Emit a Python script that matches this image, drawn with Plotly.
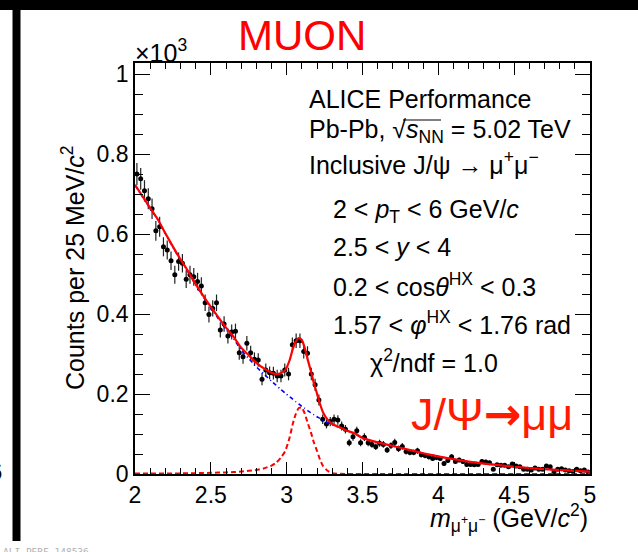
import numpy as np
import plotly.graph_objects as go

# ---- dimuon invariant-mass spectrum (counts per 25 MeV/c^2, in units of 10^3) ----
bin_low = 2.0
bin_width = 0.025
counts_k = [
    0.750, 0.738, 0.708, 0.688, 0.663, 0.608, 0.618, 0.568, 0.560, 0.533,
    0.498, 0.531, 0.527, 0.487, 0.498, 0.493, 0.481, 0.470, 0.428, 0.399,
    0.414, 0.428, 0.360, 0.375, 0.345, 0.355, 0.357, 0.303, 0.293, 0.327,
    0.303, 0.287, 0.285, 0.237, 0.260, 0.253, 0.252, 0.245, 0.245, 0.260,
    0.250, 0.323, 0.333, 0.333, 0.306, 0.302, 0.250, 0.223, 0.185, 0.137,
    0.125, 0.131, 0.137, 0.135, 0.120, 0.112, 0.078, 0.093, 0.108, 0.078,
    0.092, 0.078, 0.074, 0.068, 0.077, 0.074, 0.060, 0.071, 0.079, 0.063,
    0.069, 0.056, 0.054, 0.054, 0.058, 0.048, 0.046, 0.043, 0.039, 0.041,
    0.039, 0.026, 0.034, 0.043, 0.031, 0.035, 0.031, 0.024, 0.024, 0.023,
    0.024, 0.031, 0.030, 0.028, 0.012, 0.023, 0.022, 0.022, 0.018, 0.025,
    0.020, 0.018, 0.012, 0.012, 0.010, 0.015, 0.012, 0.012, 0.020, 0.018,
    0.005, 0.012, 0.013, 0.010, 0.008, 0.006, 0.012, 0.008, 0.010, 0.005,
]

# ---- fit components sampled along the mass axis ----
fit_mass = [
    2.00, 2.05, 2.10, 2.15, 2.20, 2.25, 2.30, 2.35, 2.40, 2.45,
    2.50, 2.55, 2.60, 2.65, 2.70, 2.75, 2.80, 2.85, 2.90, 2.93,
    2.96, 2.99, 3.02, 3.04, 3.06, 3.08, 3.10, 3.12, 3.14, 3.16,
    3.18, 3.20, 3.22, 3.24, 3.27, 3.30, 3.35, 3.40, 3.45, 3.50,
    3.60, 3.70, 3.80, 3.90, 4.00, 4.10, 4.20, 4.30, 4.40, 4.50,
    4.60, 4.70, 4.80, 4.90, 5.00,
]
background = [
    0.722, 0.693, 0.664, 0.636, 0.601, 0.567, 0.535, 0.505, 0.4725, 0.443,
    0.415, 0.388, 0.362, 0.338, 0.310, 0.289, 0.268, 0.250, 0.232, 0.222,
    0.212, 0.202, 0.193, 0.187, 0.181, 0.175, 0.169, 0.164, 0.158, 0.153,
    0.148, 0.143, 0.139, 0.134, 0.128, 0.123, 0.116, 0.108, 0.101, 0.090,
    0.079, 0.070, 0.061, 0.052, 0.044, 0.037, 0.031, 0.026, 0.022, 0.018,
    0.015, 0.012, 0.010, 0.008, 0.006,
]
signal = [
    0.001, 0.001, 0.001, 0.001, 0.001, 0.0015, 0.0015, 0.002, 0.002, 0.0025,
    0.003, 0.0035, 0.004, 0.005, 0.006, 0.008, 0.010, 0.014, 0.021, 0.028,
    0.040, 0.057, 0.092, 0.125, 0.150, 0.165, 0.166, 0.150, 0.126, 0.104,
    0.078, 0.058, 0.036, 0.020, 0.008, 0.002, 0.0005, 0.0, 0.0, 0.0,
    0.0, 0.0, 0.0, 0.0, 0.0, 0.0, 0.0, 0.0, 0.0, 0.0,
    0.0, 0.0, 0.0, 0.0, 0.0,
]

counts_k = np.array(counts_k)
mass = bin_low + bin_width * (np.arange(len(counts_k)) + 0.5)
stat_err = np.sqrt(counts_k * 1000.0) / 1000.0  # Poisson uncertainty
total = np.array(background) + np.array(signal)

# ---- page geometry (pixels) ----
FIG_W, FIG_H = 638, 552
L, R, T, B = 135, 590, 63, 474
W, H = R - L, B - T


def px(x):
    return (x - L) / W


def py(y):
    return (B - y) / H


FONT = "Liberation Sans, Arial, sans-serif"

fig = go.Figure()

fig.add_trace(go.Scatter(
    x=mass, y=counts_k, mode="markers",
    marker=dict(color="black", size=5),
    error_y=dict(type="data", array=stat_err, color="#222222",
                 thickness=1.2, width=0),
    hoverinfo="x+y", showlegend=False,
))
fig.add_trace(go.Scatter(
    x=fit_mass, y=background, mode="lines",
    line=dict(color="#0000ff", width=1.6, dash="4px,3px,1px,3px",
              shape="spline", smoothing=0.6),
    showlegend=False,
))
fig.add_trace(go.Scatter(
    x=fit_mass, y=signal, mode="lines",
    line=dict(color="#ff0000", width=2, dash="5px,3px",
              shape="spline", smoothing=0.6),
    showlegend=False,
))
fig.add_trace(go.Scatter(
    x=fit_mass, y=total, mode="lines",
    line=dict(color="#ff0000", width=2.2, shape="spline", smoothing=0.6),
    showlegend=False,
))

axis_common = dict(
    showline=True, linecolor="black", linewidth=1.6, mirror="ticks",
    ticks="inside", tickcolor="black", tickwidth=1.2,
    showgrid=False, zeroline=False,
    tickfont=dict(family=FONT, size=23, color="black"),
)
fig.update_xaxes(range=[2, 5], tick0=2, dtick=0.5, ticklen=12,
                 minor=dict(ticks="inside", dtick=0.1, ticklen=6,
                            tickcolor="black", tickwidth=1.2, showgrid=False),
                 **axis_common)
fig.update_yaxes(range=[0, 1.0275], tick0=0, dtick=0.2, ticklen=15,
                 minor=dict(ticks="inside", dtick=0.05, ticklen=8,
                            tickcolor="black", tickwidth=1.2, showgrid=False),
                 **axis_common)

ann = []


def text(x, y, s, size=25, color="black", xanchor="left", angle=0,
         family=FONT, yanchor="middle"):
    ann.append(dict(x=px(x), y=py(y), xref="paper", yref="paper", text=s,
                    showarrow=False, xanchor=xanchor, yanchor=yanchor,
                    textangle=angle,
                    font=dict(family=family, size=size, color=color)))


# axis titles and exponent
text(73, 268, "Counts per 25 MeV/<i>c</i><sup>2</sup>", size=25,
     xanchor="center", angle=-90)
text(590, 518, "<i>m</i><sub>μ<sup>+</sup>μ<sup>−</sup></sub> (GeV/<i>c</i><sup>2</sup>)",
     size=25, xanchor="right")
text(133, 51, "×10<sup>3</sup>", size=25)

# ALICE labels
text(307, 99, "ALICE Performance")
text(307, 131, "Pb-Pb, √<i>s</i><sub>NN</sub> = 5.02 TeV")
text(307, 163, "Inclusive J/ψ → μ<sup>+</sup>μ<sup>−</sup>")
text(331, 211, "2 &lt; <i>p</i><sub>T</sub> &lt; 6 GeV/<i>c</i>")
text(331, 247, "2.5 &lt; <i>y</i> &lt; 4")
text(331, 285, "0.2 &lt; cos<i>θ</i><sup>HX</sup> &lt; 0.3")
text(331, 323, "1.57 &lt; <i>φ</i><sup>HX</sup> &lt; 1.76 rad")
text(368, 361, "χ<sup>2</sup>/ndf = 1.0")

# channel labels
text(302, 36, "MUON", size=42, color="#ff0000", xanchor="center")
text(492, 414,
     "J/Ψ<span style='font-family:DejaVu Sans;font-weight:bold'>→</span>μμ",
     size=45, color="#ff1a00", xanchor="center")

# page furniture
text(4, 471, "6", size=24, xanchor="right")
text(1, 544, "ALI-PERF-148536", size=9.5, color="#b0b0b0",
     family="DejaVu Sans Mono, monospace", yanchor="top")

shapes = [
    dict(type="rect", xref="paper", yref="paper",
         x0=px(0), x1=px(FIG_W), y0=py(10), y1=py(0),
         fillcolor="black", line=dict(width=0), layer="above"),
    dict(type="rect", xref="paper", yref="paper",
         x0=px(12.5), x1=px(20.5), y0=py(541), y1=py(0),
         fillcolor="black", line=dict(width=0), layer="above"),
    # vinculum of the square-root sign over s_NN
    dict(type="line", xref="paper", yref="paper",
         x0=px(403), x1=px(441), y0=py(120), y1=py(120),
         line=dict(color="black", width=1.2)),
]

fig.update_layout(
    width=FIG_W, height=FIG_H, autosize=False,
    margin=dict(l=L, r=FIG_W - R, t=T, b=FIG_H - B, pad=0),
    paper_bgcolor="white", plot_bgcolor="white",
    annotations=ann, shapes=shapes, showlegend=False,
)

fig.write_html("out.html")
